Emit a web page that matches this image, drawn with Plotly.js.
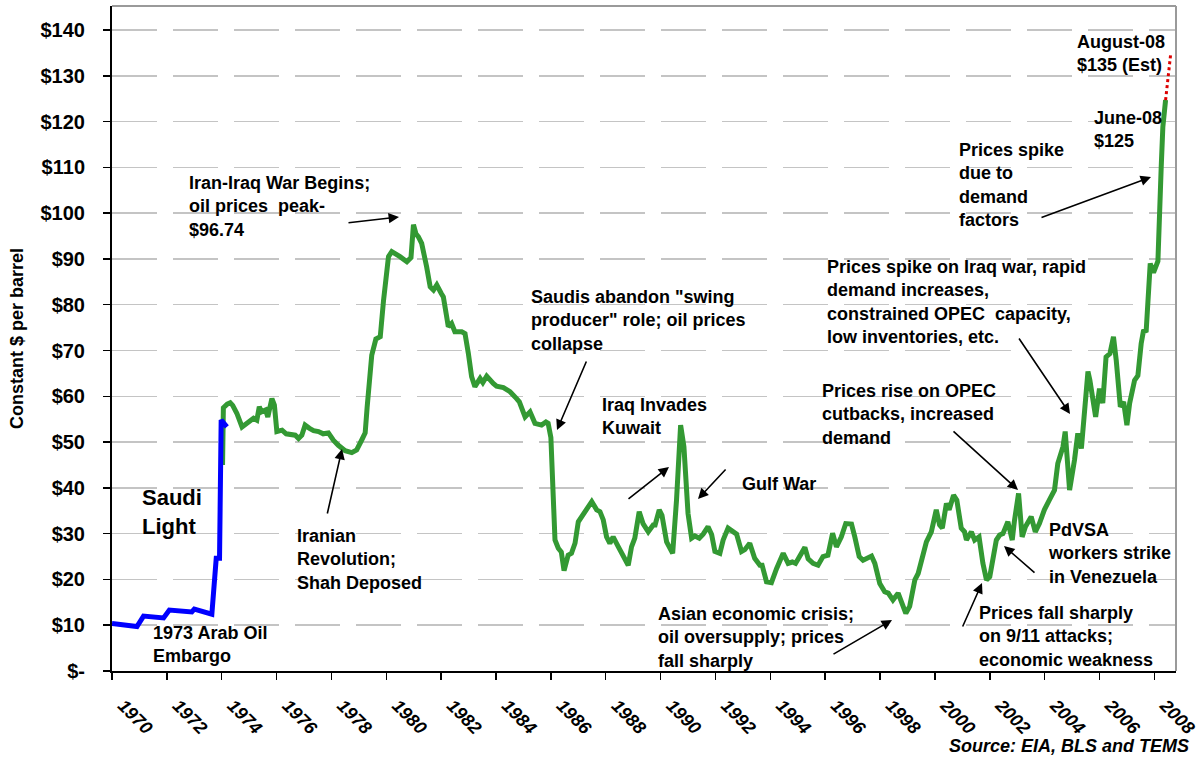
<!DOCTYPE html>
<html>
<head>
<meta charset="utf-8">
<script src="https://cdn.plot.ly/plotly-3.0.1.min.js"></script>
<style>html,body{margin:0;padding:0;background:#fff;}#chart{width:1199px;height:757px;}</style>
</head>
<body>
<div id="chart"></div>
<script>
// ---- data ----
const saudiYears = [1970.0, 1970.91, 1971.15, 1971.88, 1972.09, 1972.91, 1973.0, 1973.64, 1973.8, 1973.92, 1973.98, 1974.19];
const saudiPrices = [10.4, 9.7, 12.0, 11.6, 13.3, 12.9, 13.5, 12.4, 24.6, 24.6, 54.8, 53.3];

const crudeYears = [
 1974.03,1974.06,1974.2,1974.31,1974.4,1974.55,1974.74,1974.9,1975.16,1975.28,1975.37,1975.45,1975.6,1975.68,1975.83,1975.92,
 1976.01,1976.2,1976.35,1976.68,1976.8,1976.92,1977.04,1977.2,1977.35,1977.53,1977.7,1977.89,1978.07,1978.25,1978.5,1978.74,1978.92,
 1979.1,1979.23,1979.3,1979.47,1979.62,1979.78,1979.9,1980.08,1980.2,1980.32,1980.5,1980.75,1980.9,1980.99,1981.08,1981.17,1981.29,
 1981.47,1981.6,1981.72,1981.84,1982.0,1982.08,1982.2,1982.26,1982.38,1982.5,1982.75,1982.87,1982.99,1983.11,1983.23,1983.42,1983.52,
 1983.66,1983.9,1984.02,1984.27,1984.51,1984.75,1984.85,1985.06,1985.24,1985.42,1985.66,1985.82,1985.9,1986.0,1986.15,1986.27,1986.38,
 1986.48,1986.63,1986.75,1986.88,1987.0,1987.18,1987.49,1987.67,1987.79,1987.91,1988.03,1988.15,1988.27,1988.46,1988.64,1988.82,1988.94,
 1989.06,1989.22,1989.36,1989.55,1989.73,1989.8,1989.95,1990.05,1990.22,1990.44,1990.58,1990.73,1990.85,1991.0,1991.13,1991.25,1991.41,
 1991.55,1991.73,1991.86,1991.98,1992.16,1992.28,1992.46,1992.65,1992.77,1992.95,1993.07,1993.25,1993.43,1993.62,1993.7,1993.86,1994.04,
 1994.23,1994.47,1994.65,1994.8,1994.92,1995.08,1995.26,1995.38,1995.56,1995.74,1995.92,1996.1,1996.27,1996.41,1996.59,1996.75,1996.96,
 1997.08,1997.24,1997.38,1997.5,1997.69,1997.81,1997.99,1998.17,1998.3,1998.47,1998.66,1998.78,1998.94,1999.08,1999.27,1999.39,1999.57,
 1999.69,1999.87,2000.05,2000.17,2000.27,2000.42,2000.52,2000.68,2000.8,2000.96,2001.08,2001.15,2001.33,2001.45,2001.61,2001.75,2001.88,
 2002.0,2002.12,2002.24,2002.36,2002.48,2002.66,2002.82,2002.9,2003.05,2003.18,2003.3,2003.51,2003.66,2003.81,2003.99,2004.17,2004.36,
 2004.48,2004.67,2004.75,2004.91,2005.09,2005.21,2005.34,2005.46,2005.58,2005.65,2005.86,2006.0,2006.12,2006.24,2006.38,2006.51,2006.61,
 2006.76,2006.88,2007.0,2007.1,2007.28,2007.4,2007.52,2007.61,2007.7,2007.79,2007.85,2007.97,2008.13,2008.25,2008.31,2008.41];
const crudePrices = [
 45.0,57.5,58.3,58.6,58.0,56.3,53.3,54.1,55.2,54.8,57.7,56.6,57.0,55.5,59.5,58.1,
 52.3,52.6,51.8,51.5,50.8,51.5,53.7,53.0,52.5,52.3,51.8,52.0,50.4,49.3,48.1,47.7,48.3,
 50.4,52.0,57.5,69.0,72.5,73.0,81.0,90.5,91.6,91.2,90.5,89.4,90.3,97.5,95.5,94.8,93.4,
 88.3,83.9,83.2,84.3,82.5,81.7,77.4,75.2,75.9,74.1,74.1,73.7,69.4,64.3,62.1,63.9,63.0,
 64.4,62.8,62.2,61.9,61.0,59.5,58.8,55.5,56.6,54.1,53.7,54.4,54.1,51.0,28.6,26.8,26.0,
 21.9,25.3,25.7,27.9,32.6,34.1,37.0,35.2,34.8,33.0,29.3,27.9,29.3,27.1,25.0,23.1,27.1,
 29.0,34.8,32.2,30.4,31.9,31.9,35.2,34.0,28.2,25.7,37.3,53.7,49.0,34.4,29.0,29.5,29.0,
 29.9,31.5,29.8,26.1,25.7,28.6,31.2,30.3,29.9,26.1,26.5,27.9,24.6,23.1,23.1,19.5,19.3,
 22.4,25.7,23.5,23.8,23.5,25.0,27.0,24.5,23.5,23.1,25.0,25.3,30.1,27.1,29.3,32.2,32.1,
 29.3,25.0,24.2,24.5,25.1,23.5,19.1,17.3,17.0,15.5,17.0,15.1,12.6,14.1,19.9,21.3,25.0,
 28.2,30.4,35.2,31.9,31.2,36.6,35.2,38.4,37.3,31.2,30.4,28.6,30.4,28.6,29.3,23.5,19.9,
 20.6,24.2,28.6,29.7,30.0,32.6,28.6,32.8,38.8,29.3,31.5,33.7,30.4,32.2,35.2,37.3,39.5,
 45.3,49.0,52.3,39.5,46.1,51.9,48.6,56.3,65.4,63.5,55.5,61.7,58.5,68.6,69.3,73.0,67.9,
 57.7,58.8,53.7,58.5,63.5,64.5,71.5,74.5,74.0,84.7,89.0,87.0,89.5,110.0,118.8,124.7];

const estYears = [2008.41, 2008.6];
const estPrices = [124.7, 135.0];

const yTickVals = [0,10,20,30,40,50,60,70,80,90,100,110,120,130,140];
const yTickText = ['$-','$10','$20','$30','$40','$50','$60','$70','$80','$90','$100','$110','$120','$130','$140'];
const xTickVals = [1970,1972,1974,1976,1978,1980,1982,1984,1986,1988,1990,1992,1994,1996,1998,2000,2002,2004,2006,2008];
const xTickText = xTickVals.map(String);

// ---- layout geometry ----
const FONT = 'Arial, "Liberation Sans", sans-serif';
const W = 1199, H = 757, L = 112, R = 23, T = 6, B = 86;
const PW = W - L - R, PH = H - T - B;
const px = x => (x - L) / PW;
const py = y => (H - B - y) / PH;

const traces = [
  {x: crudeYears, y: crudePrices, type: 'scatter', mode: 'lines',
   line: {color: '#339933', width: 5}, hoverinfo: 'skip', showlegend: false},
  {x: saudiYears, y: saudiPrices, type: 'scatter', mode: 'lines',
   line: {color: '#0000ff', width: 5}, hoverinfo: 'skip', showlegend: false},
  {x: estYears, y: estPrices, type: 'scatter', mode: 'lines',
   line: {color: '#dd0000', width: 3, dash: '3px,3px'}, hoverinfo: 'skip', showlegend: false}
];

function txt(text, xl, yc, size, extra) {
  return Object.assign({text: text, xref: 'paper', yref: 'paper', x: px(xl), y: py(yc),
    xanchor: 'left', yanchor: 'middle', align: 'left', showarrow: false,
    font: {family: FONT, size: size || 18, color: '#000', weight: 'bold'}}, extra || {});
}
function arrow(tx, ty, hx, hy) {
  return {text: '', xref: 'paper', yref: 'paper', x: px(hx), y: py(hy),
    ax: tx - hx, ay: ty - hy, showarrow: true, arrowhead: 2, arrowsize: 1.3,
    arrowwidth: 1.6, arrowcolor: '#000', standoff: 0, startstandoff: 0};
}

const annotations = [
  txt('Iran-Iraq War Begins;<br>oil prices  peak-<br>$96.74', 187, 206),
  txt('Saudi<br>Light', 140, 512, 22),
  txt('1973 Arab Oil<br>Embargo', 151, 644),
  txt('Iranian<br>Revolution;<br>Shah Deposed', 295, 559),
  txt('Saudis abandon "swing<br>producer" role; oil prices<br>collapse', 529, 320.5),
  txt('Iraq Invades<br>Kuwait', 600, 417),
  txt('Gulf War', 740, 484),
  txt('Asian economic crisis;<br>oil oversupply; prices<br>fall sharply', 656, 637),
  txt('Prices rise on OPEC<br>cutbacks, increased<br>demand', 820, 414.5),
  txt('PdVSA<br>workers strike<br>in Venezuela', 1046, 553.5),
  txt('Prices fall sharply<br>on 9/11 attacks;<br>economic weakness', 977, 636.5),
  txt('Prices spike on Iraq war, rapid<br>demand increases,<br>constrained OPEC  capacity,<br>low inventories, etc.', 825, 302),
  txt('Prices spike<br>due to<br>demand<br>factors', 957, 185),
  txt('June-08<br>$125', 1092, 130),
  txt('August-08<br>$135 (Est)', 1075, 53.5),
  {text: 'Source: EIA, BLS and TEMS', xref: 'paper', yref: 'paper', x: px(1191), y: py(746),
   xanchor: 'right', yanchor: 'middle', showarrow: false,
   font: {family: FONT, size: 18, color: '#000', weight: 'bold', style: 'italic'}},
  arrow(347, 223, 399, 217),
  arrow(327, 515, 342, 449),
  arrow(587, 360, 557, 430),
  arrow(627, 500, 669, 467),
  arrow(727, 468, 698, 499),
  arrow(832, 655, 892, 620),
  arrow(952, 430, 1018, 490),
  arrow(1036, 574, 1004, 546),
  arrow(962, 628, 982, 583),
  arrow(1018, 337, 1070, 414),
  arrow(1040, 218, 1151, 177)
];

const layout = {
  width: W, height: H,
  margin: {l: L, r: R, t: T, b: B, pad: 0},
  paper_bgcolor: '#ffffff', plot_bgcolor: '#ffffff',
  font: {family: FONT, color: '#000'},
  showlegend: false,
  xaxis: {
    range: [1970, 1970 + PW / 27.43], tickmode: 'array', tickvals: xTickVals, ticktext: xTickText,
    tickangle: 45, ticks: 'outside', ticklen: 7, tickwidth: 1.5, tickcolor: '#000',
    ticklabelstandoff: 8, ticklabelshift: 11,
    showline: true, linecolor: '#000', linewidth: 2, showgrid: false, zeroline: false,
    tickfont: {family: FONT, size: 18, color: '#000', weight: 'bold', style: 'italic'}
  },
  yaxis: {
    range: [0, 145.24], tickmode: 'array', tickvals: yTickVals, ticktext: yTickText,
    ticks: 'outside', ticklen: 7, tickwidth: 1.5, tickcolor: '#000', ticklabelstandoff: 14,
    showline: true, linecolor: '#000', linewidth: 2, zeroline: false,
    showgrid: true, gridcolor: '#c4c4c4', gridwidth: 1.5, griddash: '45px,16px',
    tickfont: {family: FONT, size: 20, color: '#000', weight: 'bold'},
    title: {text: 'Constant $ per barrel', standoff: 12,
            font: {family: FONT, size: 18, color: '#000', weight: 'bold'}}
  },
  shapes: [
    {type: 'line', xref: 'paper', yref: 'paper', x0: 0, x1: 1, y0: 1, y1: 1, line: {color: '#9a9a9a', width: 2}},
    {type: 'line', xref: 'paper', yref: 'paper', x0: 1, x1: 1, y0: 0, y1: 1, line: {color: '#9a9a9a', width: 2}}
  ],
  annotations: annotations
};

Plotly.newPlot('chart', traces, layout, {displayModeBar: false, staticPlot: true});
</script>
</body>
</html>
